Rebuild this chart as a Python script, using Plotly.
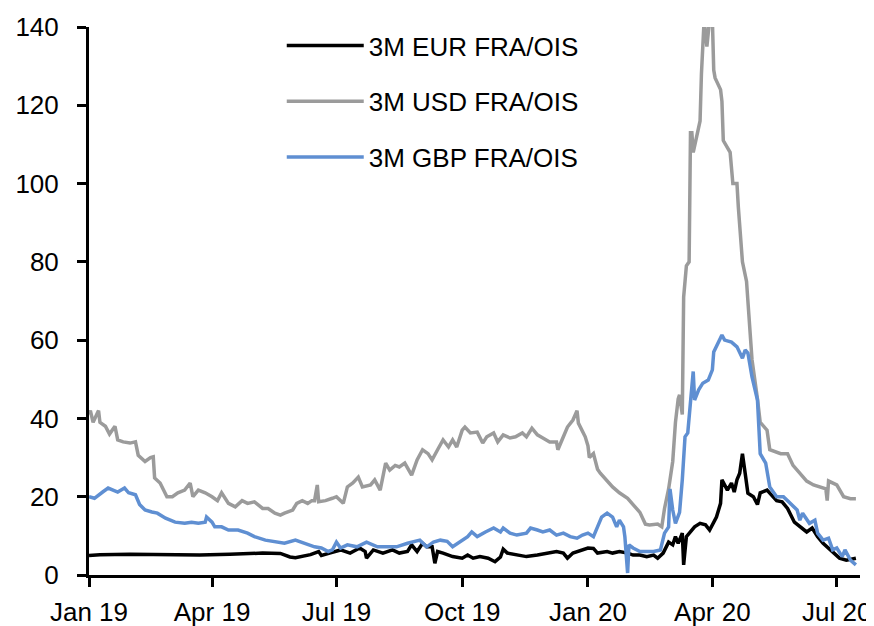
import plotly.graph_objects as go

# ---------------- data ----------------
eur_dates = [
    "2019-01-01", "2019-01-09", "2019-01-31", "2019-02-22", "2019-03-23", "2019-04-14",
    "2019-05-08", "2019-05-21", "2019-05-28", "2019-06-01", "2019-06-06", "2019-06-12",
    "2019-06-18", "2019-06-20", "2019-06-26", "2019-06-30", "2019-07-04", "2019-07-11",
    "2019-07-18", "2019-07-22", "2019-07-23", "2019-07-28", "2019-08-04", "2019-08-11",
    "2019-08-16", "2019-08-22", "2019-08-25", "2019-08-29", "2019-09-02", "2019-09-05",
    "2019-09-09", "2019-09-11", "2019-09-13", "2019-09-17", "2019-09-24", "2019-10-01",
    "2019-10-05", "2019-10-09", "2019-10-14", "2019-10-20", "2019-10-25", "2019-10-29",
    "2019-10-31", "2019-11-03", "2019-11-10", "2019-11-17", "2019-11-25", "2019-12-02",
    "2019-12-09", "2019-12-14", "2019-12-17", "2019-12-21", "2019-12-28", "2020-01-01",
    "2020-01-05", "2020-01-08", "2020-01-15", "2020-01-19", "2020-01-24", "2020-01-30",
    "2020-02-03", "2020-02-08", "2020-02-13", "2020-02-18", "2020-02-21", "2020-02-25",
    "2020-02-29", "2020-03-03", "2020-03-05", "2020-03-07", "2020-03-10", "2020-03-11",
    "2020-03-13", "2020-03-16", "2020-03-19", "2020-03-23", "2020-03-27", "2020-03-30",
    "2020-04-03", "2020-04-04", "2020-04-07", "2020-04-08", "2020-04-12", "2020-04-15",
    "2020-04-17", "2020-04-19", "2020-04-21", "2020-04-23", "2020-04-25", "2020-04-27",
    "2020-05-01", "2020-05-04", "2020-05-06", "2020-05-11", "2020-05-13", "2020-05-18",
    "2020-05-22", "2020-05-26", "2020-05-31", "2020-06-04", "2020-06-09", "2020-06-13",
    "2020-06-17", "2020-06-21", "2020-06-25", "2020-06-28", "2020-07-03", "2020-07-08",
    "2020-07-15",
]
eur_vals = [
    5.0, 5.2, 5.3, 5.2, 5.1, 5.3,
    5.6, 5.5, 4.6, 4.4, 4.8, 5.2,
    6.0, 5.0, 5.6, 6.0, 6.4, 5.6,
    6.9, 6.0, 4.3, 6.4, 5.6, 6.4,
    5.6, 6.0, 7.7, 6.0, 8.1, 7.2,
    7.2, 3.0, 6.0, 5.6, 4.7, 4.3,
    5.1, 4.3, 4.7, 4.3, 3.4, 4.6,
    6.6, 5.6, 5.1, 4.7, 5.1, 5.6,
    6.0, 5.6, 4.3, 5.6, 6.4, 6.9,
    6.8, 5.6, 6.0, 5.6, 6.0, 5.6,
    5.1, 5.1, 4.7, 5.1, 4.3, 5.6,
    8.4, 7.7, 9.8, 8.1, 10.7, 2.6,
    9.8, 11.0, 12.3, 13.2, 12.8, 11.5,
    14.0, 14.8, 18.3, 24.3, 21.7, 23.5,
    21.2, 24.3, 26.0, 31.0, 26.0, 20.9,
    20.0, 18.0, 21.0, 21.7, 20.9, 19.0,
    18.7, 17.0, 13.5, 12.3, 11.0, 12.0,
    9.8, 8.1, 6.9, 6.0, 4.3, 3.8,
    4.3,
]

usd_dates = [
    "2019-01-01", "2019-01-02", "2019-01-04", "2019-01-08", "2019-01-09", "2019-01-13",
    "2019-01-16", "2019-01-20", "2019-01-22", "2019-01-26", "2019-01-31", "2019-02-04",
    "2019-02-06", "2019-02-11", "2019-02-15", "2019-02-17", "2019-02-18", "2019-02-22",
    "2019-02-27", "2019-03-03", "2019-03-07", "2019-03-12", "2019-03-16", "2019-03-18",
    "2019-03-22", "2019-03-27", "2019-04-01", "2019-04-05", "2019-04-08", "2019-04-13",
    "2019-04-18", "2019-04-23", "2019-04-27", "2019-05-02", "2019-05-08", "2019-05-12",
    "2019-05-17", "2019-05-21", "2019-05-24", "2019-05-30", "2019-06-02", "2019-06-06",
    "2019-06-10", "2019-06-13", "2019-06-15", "2019-06-17", "2019-06-18", "2019-06-23",
    "2019-06-28", "2019-07-01", "2019-07-06", "2019-07-09", "2019-07-13", "2019-07-17",
    "2019-07-20", "2019-07-26", "2019-07-29", "2019-08-02", "2019-08-06", "2019-08-09",
    "2019-08-13", "2019-08-16", "2019-08-20", "2019-08-25", "2019-08-29", "2019-09-02",
    "2019-09-06", "2019-09-09", "2019-09-13", "2019-09-17", "2019-09-21", "2019-09-24",
    "2019-09-27", "2019-10-01", "2019-10-03", "2019-10-07", "2019-10-12", "2019-10-16",
    "2019-10-19", "2019-10-24", "2019-10-27", "2019-10-31", "2019-11-05", "2019-11-09",
    "2019-11-14", "2019-11-17", "2019-11-21", "2019-11-25", "2019-11-29", "2019-12-04",
    "2019-12-09", "2019-12-10", "2019-12-13", "2019-12-17", "2019-12-21", "2019-12-24",
    "2019-12-25", "2019-12-30", "2020-01-01", "2020-01-02", "2020-01-05", "2020-01-08",
    "2020-01-10", "2020-01-15", "2020-01-19", "2020-01-24", "2020-01-30", "2020-02-03",
    "2020-02-08", "2020-02-12", "2020-02-15", "2020-02-21", "2020-02-24", "2020-02-26",
    "2020-02-29", "2020-03-03", "2020-03-05", "2020-03-07", "2020-03-08", "2020-03-10",
    "2020-03-11", "2020-03-13", "2020-03-15", "2020-03-16", "2020-03-17", "2020-03-18",
    "2020-03-20", "2020-03-23", "2020-03-24", "2020-03-26", "2020-03-28", "2020-03-30",
    "2020-04-01", "2020-04-02", "2020-04-03", "2020-04-07", "2020-04-08", "2020-04-09",
    "2020-04-14", "2020-04-16", "2020-04-19", "2020-04-20", "2020-04-23", "2020-04-26",
    "2020-04-27", "2020-04-30", "2020-05-04", "2020-05-06", "2020-05-11", "2020-05-13",
    "2020-05-21", "2020-05-26", "2020-05-30", "2020-06-04", "2020-06-09", "2020-06-14",
    "2020-06-19", "2020-06-23", "2020-06-24", "2020-06-25", "2020-07-01", "2020-07-06",
    "2020-07-11", "2020-07-15",
]
usd_vals = [
    41.0, 42.0, 39.0, 42.0, 39.0, 38.0,
    36.0, 38.0, 34.5, 34.0, 33.7, 34.0,
    30.6, 29.0, 30.0, 30.2, 24.8, 23.5,
    20.0, 20.0, 21.0, 21.7, 23.5, 20.0,
    21.7, 21.0, 20.0, 19.0, 21.0, 18.3,
    17.4, 19.0, 18.3, 18.7, 17.0, 17.0,
    15.8, 15.3, 15.8, 16.6, 18.3, 19.0,
    18.3, 19.0, 19.0, 23.0, 18.7, 19.0,
    19.6, 20.0, 18.3, 22.5, 23.5, 25.0,
    22.5, 23.0, 24.3, 21.7, 28.6, 26.8,
    28.0, 27.6, 28.6, 25.5, 29.4, 32.0,
    31.0, 29.4, 32.0, 34.5, 32.7, 34.5,
    32.7, 37.0, 37.8, 36.3, 36.5, 33.7,
    35.3, 36.3, 34.0, 35.8, 35.0, 35.3,
    36.3, 35.3, 37.5, 35.8, 35.0, 34.0,
    34.0, 32.0, 34.5, 37.8, 39.6, 42.0,
    38.8, 35.3, 33.0, 30.0, 31.0, 27.0,
    26.0, 24.0, 22.5, 21.0, 19.6, 18.0,
    16.0, 13.0, 12.8, 13.0, 12.3, 17.0,
    22.0, 29.0, 39.0, 45.0, 46.0, 41.0,
    71.0, 79.0, 80.0, 113.0, 113.0, 108.0,
    111.0, 116.0, 128.0, 142.0, 135.0, 142.0,
    142.0, 129.0, 127.0, 124.0, 121.0, 111.0,
    108.0, 100.0, 100.0, 94.0, 80.0, 75.0,
    70.0, 55.0, 45.0, 39.0, 37.0, 32.0,
    31.0, 31.0, 28.0, 26.0, 24.0, 23.0,
    22.5, 22.0, 19.0, 24.0, 23.0, 20.0,
    19.5, 19.5,
]

gbp_dates = [
    "2019-01-01", "2019-01-05", "2019-01-11", "2019-01-15", "2019-01-22", "2019-01-27",
    "2019-01-30", "2019-02-04", "2019-02-07", "2019-02-11", "2019-02-16", "2019-02-20",
    "2019-02-26", "2019-03-05", "2019-03-12", "2019-03-17", "2019-03-22", "2019-03-27",
    "2019-03-28", "2019-04-01", "2019-04-03", "2019-04-08", "2019-04-13", "2019-04-20",
    "2019-04-27", "2019-05-02", "2019-05-10", "2019-05-17", "2019-05-24", "2019-06-01",
    "2019-06-08", "2019-06-15", "2019-06-20", "2019-06-25", "2019-06-28", "2019-07-01",
    "2019-07-04", "2019-07-09", "2019-07-16", "2019-07-23", "2019-07-31", "2019-08-07",
    "2019-08-14", "2019-08-22", "2019-08-31", "2019-09-05", "2019-09-10", "2019-09-15",
    "2019-09-20", "2019-09-24", "2019-09-29", "2019-10-05", "2019-10-08", "2019-10-12",
    "2019-10-18", "2019-10-24", "2019-10-29", "2019-10-31", "2019-11-05", "2019-11-10",
    "2019-11-17", "2019-11-20", "2019-11-25", "2019-11-29", "2019-12-04", "2019-12-09",
    "2019-12-14", "2019-12-19", "2019-12-24", "2019-12-28", "2020-01-01", "2020-01-05",
    "2020-01-08", "2020-01-11", "2020-01-15", "2020-01-19", "2020-01-22", "2020-01-24",
    "2020-01-27", "2020-01-28", "2020-01-30", "2020-01-31", "2020-02-03", "2020-02-08",
    "2020-02-13", "2020-02-18", "2020-02-23", "2020-02-26", "2020-02-29", "2020-03-01",
    "2020-03-03", "2020-03-05", "2020-03-08", "2020-03-10", "2020-03-12", "2020-03-14",
    "2020-03-18", "2020-03-19", "2020-03-22", "2020-03-25", "2020-03-29", "2020-04-01",
    "2020-04-02", "2020-04-05", "2020-04-08", "2020-04-10", "2020-04-15", "2020-04-19",
    "2020-04-23", "2020-04-25", "2020-04-27", "2020-04-30", "2020-05-04", "2020-05-06",
    "2020-05-10", "2020-05-13", "2020-05-18", "2020-05-23", "2020-05-28", "2020-06-02",
    "2020-06-04", "2020-06-06", "2020-06-11", "2020-06-15", "2020-06-17", "2020-06-21",
    "2020-06-25", "2020-06-28", "2020-07-01", "2020-07-05", "2020-07-07", "2020-07-11",
    "2020-07-15",
]
gbp_vals = [
    20.0, 19.6, 21.2, 22.2, 21.2, 22.2,
    21.0, 20.5, 18.0, 16.6, 16.1, 15.8,
    14.5, 13.5, 13.2, 13.5, 13.2, 13.5,
    14.8, 13.5, 12.3, 12.3, 11.5, 11.5,
    10.7, 9.8, 8.9, 8.4, 8.1, 8.9,
    8.1, 7.2, 6.9, 6.0, 6.4, 8.4,
    6.9, 7.7, 7.2, 8.4, 7.2, 7.2,
    7.2, 8.1, 8.9, 7.2, 8.4, 8.9,
    8.6, 7.2, 8.4, 9.8, 11.0, 9.8,
    11.0, 12.0, 11.0, 12.0, 10.7, 10.2,
    10.7, 12.0, 11.5, 11.0, 11.5, 10.2,
    10.7, 9.8, 9.4, 10.2, 10.7, 9.8,
    12.3, 14.8, 15.8, 14.8, 12.3, 14.0,
    12.3, 9.8, 0.5, 7.7, 6.9, 6.0,
    6.0, 6.0, 6.4, 10.7, 12.3, 22.0,
    16.6, 13.2, 16.0, 24.3, 35.3, 36.3,
    52.0, 44.7, 47.3, 49.0, 49.8, 52.4,
    57.0, 59.3, 61.3, 60.0, 59.5, 58.3,
    55.4, 57.5, 56.7, 50.6, 44.7, 31.0,
    28.6, 22.5, 20.0, 20.0, 18.3, 16.6,
    14.0, 15.8, 13.2, 14.0, 10.7, 8.9,
    9.4, 6.4, 6.9, 4.7, 6.4, 3.8,
    2.6,
]

y_ticks = [0, 20, 40, 60, 80, 100, 120, 140]

# ---------------- figure ----------------
FONT = "Liberation Sans, Arial, sans-serif"
FSIZE = 26

fig = go.Figure()
fig.add_trace(go.Scatter(
    x=usd_dates, y=usd_vals, mode="lines", name="3M USD FRA/OIS",
    line=dict(color="#9b9b9b", width=3.5), legendgroup="usd", legendrank=2,
))
fig.add_trace(go.Scatter(
    x=eur_dates, y=eur_vals, mode="lines", name="3M EUR FRA/OIS",
    line=dict(color="#000000", width=3.5), legendgroup="eur", legendrank=1,
))
fig.add_trace(go.Scatter(
    x=gbp_dates, y=gbp_vals, mode="lines", name="3M GBP FRA/OIS",
    line=dict(color="#5f8fd2", width=3.5), legendgroup="gbp", legendrank=3,
))

# the page body adds an 8px offset, so the figure is sized to fit the window
fig.update_layout(
    template="none",
    width=866, height=618,
    margin=dict(l=81, r=14, t=19, b=51, autoexpand=False),
    paper_bgcolor="white", plot_bgcolor="white",
    font=dict(family=FONT, size=FSIZE, color="black"),
    showlegend=True,
    legend=dict(
        x=0.250, y=1.009, xanchor="left", yanchor="top",
        bgcolor="rgba(0,0,0,0)", borderwidth=0,
        font=dict(family=FONT, size=FSIZE, color="black"),
        tracegroupgap=19, itemwidth=77,
        traceorder="grouped",
    ),
    xaxis=dict(
        type="date", automargin=False,
        range=["2019-01-01", "2020-07-18"],
        tick0="2019-01-01", dtick="M3", tickformat="%b %y",
        showline=True, linecolor="black", linewidth=3,
        ticks="outside", ticklen=9, tickwidth=3, tickcolor="black",
        showgrid=False, zeroline=False,
        tickfont=dict(family=FONT, size=FSIZE, color="black"),
        ticklabelstandoff=3,
    ),
    yaxis=dict(
        automargin=False,
        range=[0, 140],
        tickvals=y_ticks,
        showline=True, linecolor="black", linewidth=3,
        ticks="outside", ticklen=9, tickwidth=3, tickcolor="black",
        showgrid=False, zeroline=False,
        tickfont=dict(family=FONT, size=FSIZE, color="black"),
        ticklabelstandoff=13,
    ),
)

fig.write_html("out.html")
